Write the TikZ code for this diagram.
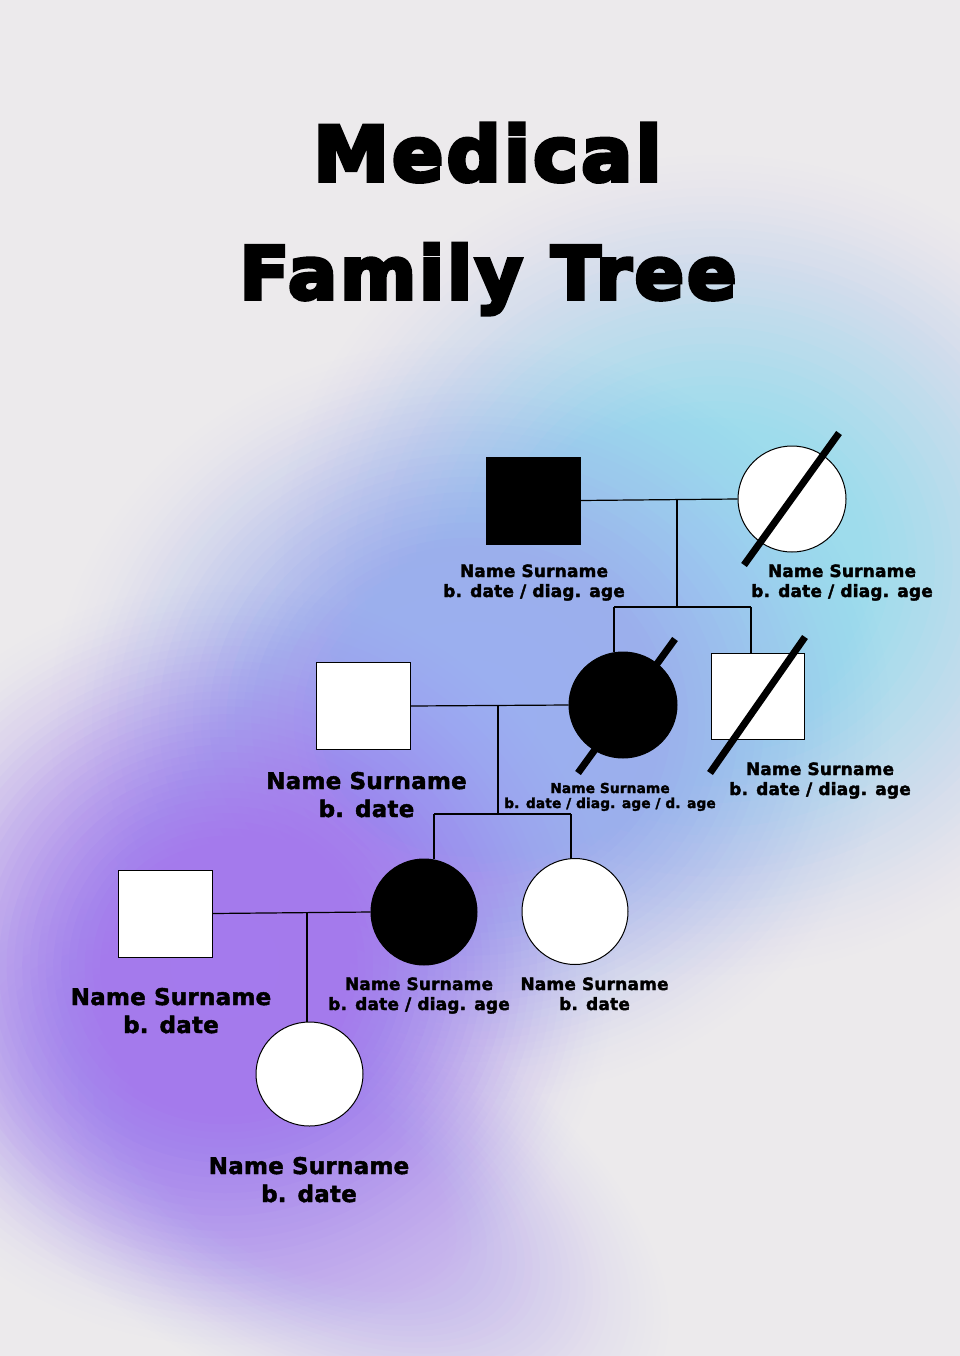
\documentclass[tikz,border=0pt]{standalone}
\usepackage{fontspec}
\setmainfont{DejaVu Sans}
\newfontfamily\titlefam{DejaVu Sans}[UprightFont={* Bold}, FakeBold=5, LetterSpace=4]
\newfontfamily\labelfam{DejaVu Sans}[UprightFont={* Bold}, FakeBold=2, LetterSpace=1]
\usetikzlibrary{shapes.geometric}
\definecolor{bgbase}{HTML}{ECEAEC}
\definecolor{blobcyan}{HTML}{9EDCF5}
\definecolor{blobblue}{HTML}{9BAFF8}
\definecolor{blobpurple}{HTML}{A47AF4}
\definecolor{bloblav}{HTML}{C9B6EE}
\newcommand\softblob[6]{%
  \foreach \k in {1,...,50} {
    \pgfmathsetmacro\f{\k/50}
    \pgfmathsetmacro\aa{0.14*(1-\f)+0.004}
    \fill[#1, opacity=\aa, rotate around={#6:(#2,#3)}] (#2,#3) ellipse [x radius={#4*\f}, y radius={#5*\f}];
  }%
}
\begin{document}
\begin{tikzpicture}[x=1pt,y=-1pt,
  sq/.style={draw=black, line width=1pt, rectangle, minimum width=94pt, minimum height=87pt, inner sep=0pt},
  ci/.style={draw=black, line width=1pt, ellipse, minimum width=108pt, minimum height=106pt, inner sep=0pt},
  aff/.style={fill=black},
  una/.style={fill=white},
  link/.style={draw=black, line width=1.2pt},
  slashline/.style={draw=black, line width=7pt},
  lblM/.style={font=\labelfam\fontsize{17}{20}\selectfont, align=center, anchor=base, inner sep=0pt},
  lblL/.style={font=\labelfam\fontsize{23}{28}\selectfont, align=center, anchor=base, inner sep=0pt},
  lblS/.style={font=\labelfam\fontsize{13.7}{15}\selectfont, align=center, anchor=base, inner sep=0pt},
  ttl/.style={anchor=base, inner sep=0pt}
]
\useasboundingbox (0,0) rectangle (960,1356);
% background
\fill[bgbase] (0,0) rectangle (960,1356);
\softblob{bloblav}{290}{1170}{420}{210}{-30}
\softblob{blobcyan}{715}{565}{440}{410}{0}
\softblob{blobblue}{470}{720}{420}{380}{0}
\softblob{blobpurple}{225}{965}{390}{380}{0}

% title
\node[ttl, font=\titlefam\fontsize{76}{76}\selectfont] (t1) at (487.5,181) {Medical};
\node[ttl, font=\titlefam\fontsize{73}{73}\selectfont] (t2) at (488,299) {Family Tree};

% generation 1
\node[sq, aff] (g1m) at (533,500.5) {};
\node[ci, una] (g1f) at (792,499) {};
% generation 2
\node[sq, una] (g2m) at (363.5,706) {};
\node[ci, aff] (g2f) at (623,705) {};
\node[sq, una, minimum width=93pt, minimum height=86pt] (g2s) at (757.5,696) {};
% generation 3
\node[sq, una] (g3m) at (165,913.5) {};
\node[ci, aff, minimum width=106pt] (g3f) at (424,912) {};
\node[ci, una, minimum width=106pt] (g3s) at (575,911.5) {};
% generation 4
\node[ci, una, minimum width=107pt, minimum height=104pt] (g4) at (309.5,1074) {};

% connectors
\coordinate (m1) at (677,499);
\coordinate (b1) at (677,607);
\coordinate (b1L) at (614,607);
\coordinate (b1R) at (751,607);
\draw[link] (g1m.east) -- (g1f.west);
\draw[link] (m1) -- (b1);
\draw[link] (b1L) -- (b1R);
\draw[link] (b1L) -- (b1L |- g2f.north);
\draw[link] (b1R) -- (b1R |- g2s.north);

\coordinate (m2) at (498,705.5);
\coordinate (b2) at (498,814);
\coordinate (b2L) at (434,814);
\coordinate (b2R) at (571,814);
\draw[link] (g2m.east) -- (g2f.west);
\draw[link] (m2) -- (b2);
\draw[link] (b2L) -- (b2R);
\draw[link] (b2L) -- (b2L |- g3f.north);
\draw[link] (b2R) -- (b2R |- g3s.north);

\coordinate (m3) at (307,912.5);
\draw[link] (g3m.east) -- (g3f.west);
\draw[link] (m3) -- (m3 |- g4.north);

% deceased slashes
\draw[slashline] ([shift={(47,-66)}]g1f.center) -- ([shift={(-48,66)}]g1f.center);
\draw[slashline] ([shift={(52,-66)}]g2f.center) -- ([shift={(-45,68)}]g2f.center);
\draw[slashline] ([shift={(47.5,-59)}]g2s.center) -- ([shift={(-47.5,77)}]g2s.center);

% labels (anchor base = last line baseline)
\node[lblM] (l1m) at (534,597) {Name Surname\\b. date / diag. age};
\node[lblM] (l1f) at (842,597) {Name Surname\\b. date / diag. age};
\node[lblL] (l2m) at (366.5,817) {Name Surname\\b. date};
\node[lblS] (l2f) at (610,808) {Name Surname\\b. date / diag. age / d. age};
\node[lblM] (l2s) at (820,795) {Name Surname\\b. date / diag. age};
\node[lblL] (l3m) at (171,1033) {Name Surname\\b. date};
\node[lblM] (l3f) at (419,1010) {Name Surname\\b. date / diag. age};
\node[lblM] (l3s) at (594.5,1010) {Name Surname\\b. date};
\node[lblL] (l4) at (309,1202) {Name Surname\\b. date};
\end{tikzpicture}
\end{document}
